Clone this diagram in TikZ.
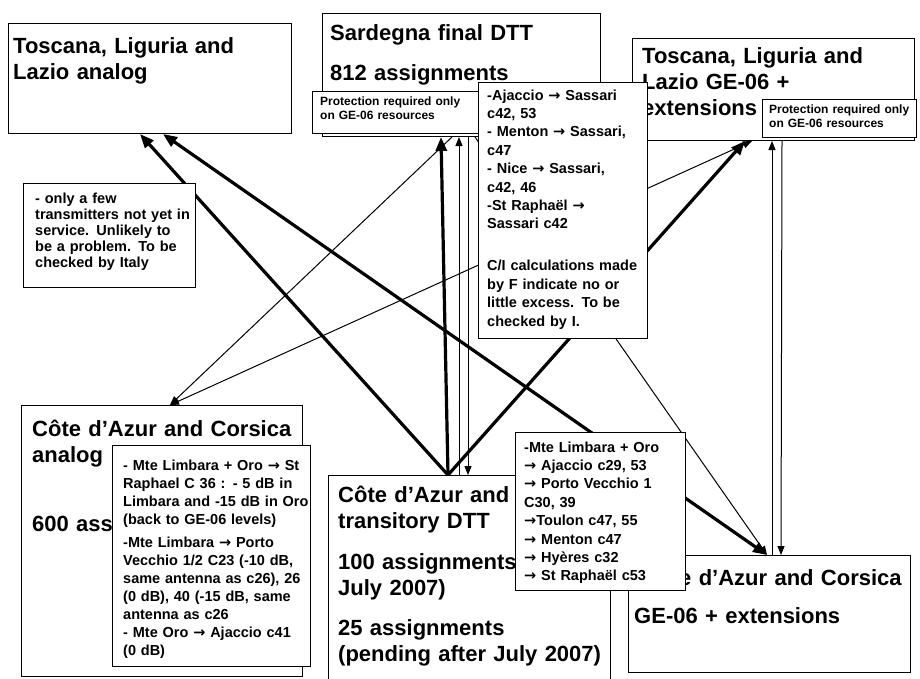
\documentclass[tikz,border=0pt]{standalone}
\usepackage{fontspec}
\setmainfont{Liberation Sans}
\newfontfamily\arrowfont{DejaVu Sans}
\newcommand{\rarr}{{\arrowfont\bfseries →}}
\usetikzlibrary{arrows.meta}

\begin{document}
\begin{tikzpicture}[x=1pt, y=-1pt,
  bigbox/.style={draw=black, line width=1pt, fill=white, inner sep=0pt, anchor=north west},
  notebox/.style={draw=black, line width=1pt, fill=white, inner sep=0pt, anchor=north west},
  titletext/.style={inner sep=0pt, anchor=base west, text width=300pt, align=left, font=\fontsize{22}{26.5}\selectfont\bfseries},
  notetext/.style={inner sep=0pt, anchor=base west, text width=200pt, align=left, font=\fontsize{14.5}{18.4}\selectfont\bfseries},
  protext/.style={inner sep=0pt, anchor=base west, text width=200pt, align=left, font=\fontsize{12}{14}\selectfont\bfseries},
  heavyarrow/.style={line width=3.2pt, -{Triangle[length=14pt, width=11pt]}},
  lightarrow/.style={line width=1pt, -{Triangle[length=9pt, width=7pt]}}]
  \fill[white] (0,0) rectangle (920,678);
  \useasboundingbox (0,0) rectangle (920,678);

  \node[bigbox, minimum width=283, minimum height=110] (tosAn) at (8,23) {};
  \node[titletext] (tosAnTxt) at (13,53) {Toscana, Liguria and\\ Lazio analog};
  \node[bigbox, minimum width=278, minimum height=123] (sarDtt) at (322,13) {};
  \node[titletext] (sarDttTxt) at (330,40) {Sardegna final DTT\\[13.5pt] 812 assignments};
  \node[bigbox, minimum width=282, minimum height=102] (tosGe) at (632,38) {};
  \node[titletext, font=\fontsize{22}{26}\selectfont\bfseries] (tosGeTxt) at (642,63) {Toscana, Liguria and\\ Lazio GE-06 +\\ extensions};
  \node[bigbox, minimum width=281, minimum height=271] (cazAn) at (21,405) {};
  \node[titletext] (cazAnTxt) at (32,436) {Côte d'Azur and Corsica\\ analog\\[42pt] 600 ass};
  \node[bigbox, minimum width=282, minimum height=210] (cazDtt) at (328,475) {};
  \node[titletext] (cazDttTxt) at (338,502) {Côte d'Azur and\\ transitory DTT\\[14pt] 100 assignments\\ July 2007)\\[13pt] 25 assignments\\ (pending after July 2007)};
  \node[bigbox, minimum width=282, minimum height=117] (cazGe) at (628,555) {};
  \node[titletext] (cazGeTxt) at (634,585) {\hspace*{45pt}e d'Azur and Corsica\\[11.5pt] GE-06 + extensions};

  \draw[heavyarrow] ([xshift=120]cazDtt.north west) -- ([xshift=132]tosAn.south west);
  \draw[heavyarrow, {Triangle[length=14pt, width=11pt]}-{Triangle[length=14pt, width=11pt]}] ([xshift=155]tosAn.south west) -- ([xshift=139]cazGe.north west);
  \draw[heavyarrow] ([xshift=120]cazDtt.north west) -- ([xshift=119]sarDtt.south west);
  \draw[heavyarrow] ([xshift=120]cazDtt.north west) -- ([xshift=113]tosGe.south west);
  \draw[lightarrow] ([xshift=131]cazDtt.north west) -- ([xshift=137]sarDtt.south west);
  \draw[lightarrow] ([xshift=146]sarDtt.south west) -- ([xshift=140]cazDtt.north west);
  \draw[lightarrow] ([xshift=130]sarDtt.south west) -- ([xshift=149]cazAn.north west);
  \draw[lightarrow, {Triangle[length=9pt, width=7pt]}-{Triangle[length=9pt, width=7pt]}] ([xshift=149]cazAn.north west) -- ([xshift=120]tosGe.south west);
  \draw[lightarrow] ([xshift=153]sarDtt.south west) -- ([xshift=139]cazGe.north west);
  \draw[lightarrow] ([xshift=144]cazGe.north west) -- ([xshift=140]tosGe.south west);
  \draw[lightarrow] ([xshift=150]tosGe.south west) -- ([xshift=153]cazGe.north west);

  \node[notebox, minimum width=172, minimum height=104] (noteIt) at (23,183) {};
  \node[notetext, font=\fontsize{14.5}{16}\selectfont\bfseries] (noteItTxt) at (35,203) {- only a few\\ transmitters not yet in\\ service. Unlikely to\\ be a problem. To be\\ checked by Italy};
  \node[notebox, minimum width=168, minimum height=42] (noteSarProt) at (312,91) {};
  \node[protext] (noteSarProtTxt) at (320,105) {Protection required only\\ on GE-06 resources};
  \node[notebox, minimum width=169, minimum height=256] (noteSar) at (478,82) {};
  \node[notetext] (noteSarTxt) at (487,100) {-Ajaccio \rarr{} Sassari\\ c42, 53\\ - Menton \rarr{} Sassari,\\ c47\\ - Nice \rarr{} Sassari,\\ c42, 46\\ -St Raphaël \rarr\\ Sassari c42\\[23.6pt] C/I calculations made\\ by F indicate no or\\ little excess. To be\\ checked by I.};
  \node[notebox, minimum width=154, minimum height=38] (noteTosProt) at (762,99) {};
  \node[protext] (noteTosProtTxt) at (769,113) {Protection required only\\ on GE-06 resources};
  \node[notebox, minimum width=198, minimum height=221] (noteCazAn) at (112,445) {};
  \node[notetext, font=\fontsize{14.5}{18}\selectfont\bfseries] (noteCazAnTxt) at (123,470) {- Mte Limbara + Oro \rarr{} St\\ Raphael C 36 : - 5 dB in\\ Limbara and -15 dB in Oro\\ (back to GE-06 levels)\\[5pt] -Mte Limbara \rarr{} Porto\\ Vecchio 1/2 C23 (-10 dB,\\ same antenna as c26), 26\\ (0 dB), 40 (-15 dB, same\\ antenna as c26\\ - Mte Oro \rarr{} Ajaccio c41\\ (0 dB)};
  \node[notebox, minimum width=170, minimum height=158] (noteCazDtt) at (515,432) {};
  \node[notetext] (noteCazDttTxt) at (524,452) {-Mte Limbara + Oro\\ \rarr{} Ajaccio c29, 53\\ \rarr{} Porto Vecchio 1\\ C30, 39\\ \rarr Toulon c47, 55\\ \rarr{} Menton c47\\ \rarr{} Hyères c32\\ \rarr{} St Raphaël c53};
\end{tikzpicture}
\end{document}
